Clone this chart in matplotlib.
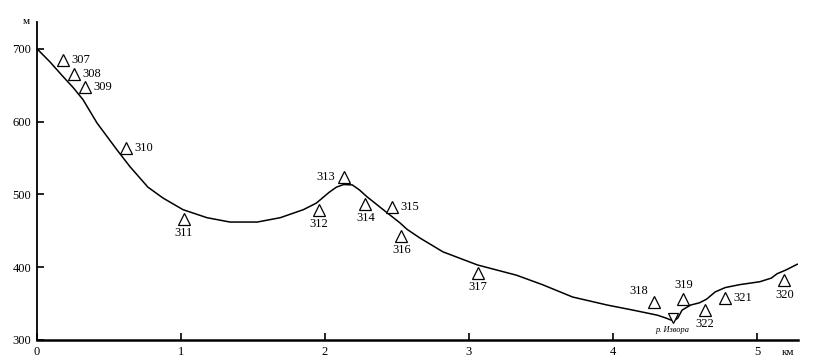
import matplotlib.pyplot as plt
import numpy as np

plt.rcParams['font.family'] = ['Liberation Serif', 'DejaVu Serif']

# profile line (km, m)
prof_x = [0.0, 0.09, 0.18, 0.25, 0.32, 0.417, 0.556, 0.646, 0.77, 0.875, 1.014, 1.18,
          1.34, 1.53, 1.69, 1.85, 1.94, 2.03, 2.08, 2.13, 2.19, 2.24, 2.29, 2.36,
          2.43, 2.52, 2.57, 2.66, 2.82, 3.06, 3.33, 3.51, 3.72, 3.96, 4.14, 4.31,
          4.37, 4.42, 4.45, 4.48, 4.54, 4.6, 4.65, 4.71, 4.78, 4.88, 5.02,
          5.1, 5.14, 5.2, 5.25, 5.28]
prof_y = [700, 682, 662, 647, 630, 598, 561, 538, 510, 495, 479, 468,
          462, 462, 468, 479, 488, 503, 510, 513.5, 513, 506, 497, 486,
          475, 461, 452, 440, 421, 403, 389, 376, 359, 348, 341, 334,
          330, 326, 330, 341, 348, 351, 356, 366, 372, 376, 380,
          385, 391, 396, 401, 404]

# survey points
pt_names = ['307', '308', '309', '310', '311', '312', '313', '314', '315', '316',
            '317', '318', '319', '320', '321', '322']
pt_x = [0.18, 0.257, 0.333, 0.618, 1.02, 1.958, 2.13, 2.28, 2.465, 2.53,
        3.06, 4.285, 4.49, 5.19, 4.78, 4.64]
pt_y = [685, 666, 648, 564, 466, 479, 524, 487, 483, 443,
        392, 352, 356, 382, 358, 341]

river_x, river_y = 4.417, 330
river_name = 'р. Изворa'

xticks = [0, 1, 2, 3, 4, 5]
yticks = [300, 400, 500, 600, 700]

# where each label sits relative to its triangle
label_side = {'307': 'r', '308': 'r', '309': 'r', '310': 'r', '311': 'b', '312': 'b',
              '313': 'l', '314': 'b', '315': 'r', '316': 'b', '317': 'b', '318': 'tl',
              '319': 't', '320': 'b', '321': 'r', '322': 'b'}
offsets = {'r': (6, 0, 'left', 'center'), 'l': (-6, 0, 'right', 'center'),
           'b': (0, -6, 'center', 'top'), 't': (0, 6, 'center', 'bottom'),
           'tl': (-4, 4, 'right', 'bottom')}

fig = plt.figure(figsize=(8.13, 3.64), dpi=100)
ax = fig.add_axes([0.0455, 0.066, 0.936, 0.874])

ax.plot(prof_x, prof_y, color='black', lw=1.1)
ax.plot(pt_x, pt_y, linestyle='none', marker='^', markersize=8,
        markerfacecolor='white', markeredgecolor='black', markeredgewidth=0.9)
for name, x, y in zip(pt_names, pt_x, pt_y):
    dx, dy, ha, va = offsets[label_side[name]]
    ax.annotate(name, (x, y), xytext=(dx, dy), textcoords='offset points',
                ha=ha, va=va, fontsize=9)

ax.plot([river_x], [river_y], linestyle='none', marker='v', markersize=7,
        markerfacecolor='white', markeredgecolor='black', markeredgewidth=0.9)
ax.annotate(river_name, (river_x, river_y), xytext=(0, -6), textcoords='offset points',
            ha='center', va='top', fontsize=6, style='italic')

ax.set_xlim(0, 5.285)
ax.set_ylim(300, 737)
ax.set_xticks(xticks)
ax.set_xticklabels([str(t) for t in xticks])
ax.set_yticks(yticks)
ax.set_yticklabels([str(t) for t in yticks])
ax.tick_params(direction='in', length=5, width=1.2, labelsize=9, pad=4)
for s in ['top', 'right']:
    ax.spines[s].set_visible(False)
ax.spines['left'].set_linewidth(1.3)
ax.spines['bottom'].set_linewidth(1.8)

ax.text(-0.01, 1.0, 'м', transform=ax.transAxes, ha='right', va='center', fontsize=8)
ax.text(0.995, -0.025, 'км', transform=ax.transAxes, ha='right', va='top', fontsize=8)

fig.savefig('out.png', dpi=100)
